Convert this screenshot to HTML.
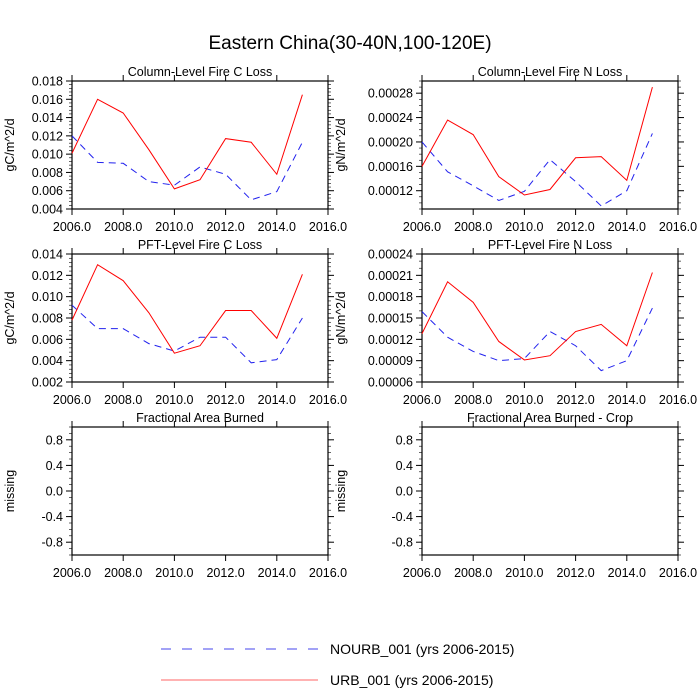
<!DOCTYPE html>
<html><head><meta charset="utf-8"><style>
body{margin:0;background:#fff;}
svg{display:block;font-family:"Liberation Sans",Arial,sans-serif;}
</style></head><body>
<svg id="chart" width="700" height="700" viewBox="0 0 700 700" xmlns="http://www.w3.org/2000/svg">
<text x="350" y="49" text-anchor="middle" font-size="19">Eastern China(30-40N,100-120E)</text>
<line x1="161" y1="649" x2="318" y2="649" stroke="#4444ee" stroke-width="1" stroke-dasharray="10,11"/>
<text x="330" y="654" font-size="14">NOURB_001 (yrs 2006-2015)</text>
<line x1="161" y1="680" x2="318" y2="680" stroke="#ff6666" stroke-width="1"/>
<text x="330" y="685" font-size="14">URB_001 (yrs 2006-2015)</text>
</svg>
<script>
const years=[2006,2007,2008,2009,2010,2011,2012,2013,2014,2015];
const xTicks=[2006,2008,2010,2012,2014,2016];
const titles=["Column-Level Fire C Loss","Column-Level Fire N Loss","PFT-Level Fire C Loss","PFT-Level Fire N Loss","Fractional Area Burned","Fractional Area Burned - Crop"];
const yLabels=["gC/m^2/d","gN/m^2/d","gC/m^2/d","gN/m^2/d","missing","missing"];
const yMins=[0.004,0.00009,0.002,0.00006,-1,-1];
const yMaxs=[0.018,0.00030,0.014,0.00024,1,1];
const yTicks=[
 ["0.004","0.006","0.008","0.010","0.012","0.014","0.016","0.018"],
 ["0.00012","0.00016","0.00020","0.00024","0.00028"],
 ["0.002","0.004","0.006","0.008","0.010","0.012","0.014"],
 ["0.00006","0.00009","0.00012","0.00015","0.00018","0.00021","0.00024"],
 ["-0.8","-0.4","0.0","0.4","0.8"],
 ["-0.8","-0.4","0.0","0.4","0.8"]];
const urb0=[0.0101,0.0160,0.0145,0.0105,0.0062,0.0072,0.0117,0.0113,0.0078,0.0165];
const nourb0=[0.0120,0.0091,0.0090,0.0070,0.0066,0.0086,0.0078,0.0050,0.0059,0.0113];
const urb1=[0.000160,0.000236,0.000212,0.000143,0.000113,0.000122,0.000174,0.000176,0.000137,0.000290];
const nourb1=[0.000200,0.000151,0.000128,0.000104,0.000119,0.000171,0.000135,0.000095,0.000120,0.000214];
const urb2=[0.0078,0.0130,0.0115,0.0085,0.0047,0.0054,0.0087,0.0087,0.0061,0.0121];
const nourb2=[0.0092,0.0070,0.0070,0.0056,0.0049,0.0062,0.0062,0.0038,0.0041,0.0080];
const urb3=[0.000128,0.000201,0.000172,0.000117,0.000091,0.000097,0.000131,0.000141,0.000111,0.000214];
const nourb3=[0.000159,0.000123,0.000103,0.000090,0.000093,0.000131,0.000111,0.000076,0.000090,0.000164];
const urbAll=[urb0,urb1,urb2,urb3,null,null];
const nourbAll=[nourb0,nourb1,nourb2,nourb3,null,null];
const yMinorStep=[0.0004,0.00001,0.0004,0.00001,0.1,0.1];

const svg=document.getElementById('chart');
const NS='http://www.w3.org/2000/svg';
function mk(tag,attrs,parent){const e=document.createElementNS(NS,tag);for(const k in attrs)e.setAttribute(k,attrs[k]);(parent||svg).appendChild(e);return e;}

for(let p=0;p<6;p++){
  const col=p%2,row=Math.floor(p/2);
  const L=col?422:72,R=L+256,T=81+row*173,B=T+128;
  const g=mk('g',{});
  
  
  const xs=v=>L+(v-2006)/10*(R-L);
  const ys=v=>B-(v-yMins[p])/(yMaxs[p]-yMins[p])*(B-T);
  const frame=mk('rect',{x:L,y:T,width:R-L,height:B-T,fill:'none',stroke:'#000','stroke-width':1.2},g);
  
  
  const t=mk('text',{x:(L+R)/2,y:T-5,'text-anchor':'middle','font-size':12.5},g);
  t.textContent=titles[p];
  
  
  xTicks.forEach(v=>{
    const x=xs(v);
    mk('line',{x1:x,y1:B,x2:x,y2:B+6,stroke:'#000'},g);
    mk('line',{x1:x,y1:T,x2:x,y2:T-6,stroke:'#000'},g);
    const tl=mk('text',{x:x,y:B+22,'text-anchor':'middle','font-size':12.5},g);
    tl.textContent=v.toFixed(1);
    
    
  });
  // minor y ticks
  const st=yMinorStep[p];
  for(let v=Math.ceil(yMins[p]/st-1e-6)*st;v<=yMaxs[p]+1e-12;v+=st){
    const y=ys(v);
    mk('line',{x1:L,y1:y,x2:L-3,y2:y,stroke:'#000','stroke-width':0.6},g);
    mk('line',{x1:R,y1:y,x2:R+3,y2:y,stroke:'#000','stroke-width':0.6},g);
  }
  yTicks[p].forEach(s=>{
    const y=ys(parseFloat(s));
    mk('line',{x1:L,y1:y,x2:L-6,y2:y,stroke:'#000'},g);
    mk('line',{x1:R,y1:y,x2:R+6,y2:y,stroke:'#000'},g);
    const tl=mk('text',{x:L-9,y:y+4.5,'text-anchor':'end','font-size':12.5},g);
    tl.textContent=s;
    
    
  });
  const yl=mk('text',{x:0,y:0,'text-anchor':'middle','font-size':12.5,transform:`translate(${col?345:14},${(T+B)/2}) rotate(-90)`},g);
  yl.textContent=yLabels[p];
  
  
  if(urbAll[p]){
    const nb=mk('polyline',{points:years.map((y,i)=>xs(y)+','+ys(nourbAll[p][i])).join(' '),fill:'none',stroke:'#2222ee','stroke-width':1,'stroke-dasharray':'7,5'},g);
    
    
    const ub=mk('polyline',{points:years.map((y,i)=>xs(y)+','+ys(urbAll[p][i])).join(' '),fill:'none',stroke:'#ff0000','stroke-width':1},g);
    
    
  }
}
</script>
</body></html>
